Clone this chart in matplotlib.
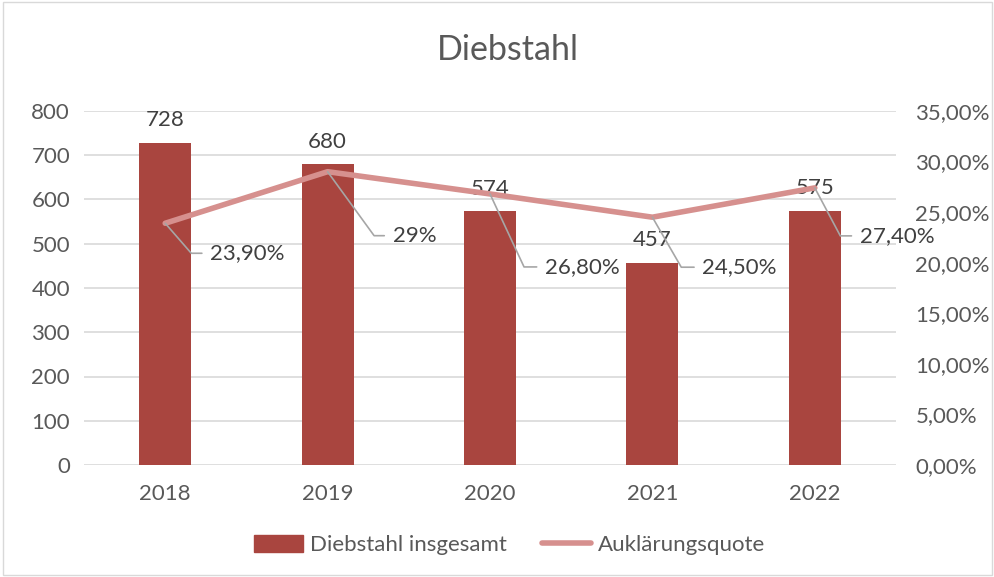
#!/usr/bin/python3

# Diebstahl: Fallzahlen (Balken) und Aufklaerungsquote (Linie)

import matplotlib
matplotlib.use("Agg")
import matplotlib.pyplot as plt
import matplotlib.ticker as mticker
import matplotlib.patches as mpatches

years = ["2018", "2019", "2020", "2021", "2022"]
cases = [728, 680, 574, 457, 575]
quote = [23.9, 29.0, 26.8, 24.5, 27.4]
quote_labels = ["23,90%", "29%", "26,80%", "24,50%", "27,40%"]

bar_col = "#A9453F"
line_col = "#D6908E"
grid_col = "#D9D9D9"
txt_col = "#404040"
tick_col = "#595959"

plt.rcParams['font.family'] = ['Lato', 'DejaVu Sans']

fig = plt.figure(figsize=(9.95, 5.77), dpi=100)
ax = fig.add_axes([84/995, 1-465/577, 812/995, 354/577])
ax2 = ax.twinx()

x = list(range(len(years)))
ax.bar(x, cases, width=0.32, color=bar_col, zorder=2, label="Diebstahl insgesamt")
ax.set_ylim(0, 800)
ax.set_xlim(-0.5, len(years)-0.5)
ax.set_yticks(range(0, 801, 100))
ax.yaxis.grid(True, color=grid_col, linewidth=1.2, zorder=0)
ax.set_axisbelow(True)
ax.set_xticks(x)
ax.set_xticklabels(years)
for s in ax.spines.values():
    s.set_visible(False)
for s in ax2.spines.values():
    s.set_visible(False)
ax.tick_params(axis='y', length=0, labelsize=16, colors=tick_col, pad=10)
ax.tick_params(axis='x', length=0, labelsize=16, colors=tick_col, pad=14)

for xi, v in zip(x, cases):
    ax.annotate(str(v), (xi, v), xytext=(0, 9), textcoords='offset points',
                ha='center', va='bottom', fontsize=16, color=txt_col)

ax2.plot(x, quote, color=line_col, linewidth=4, solid_capstyle='round', zorder=3,
         label="Auklärungsquote")
ax2.set_ylim(0, 35)
ax2.set_yticks(range(0, 36, 5))
ax2.yaxis.set_major_formatter(mticker.FuncFormatter(lambda v, p: f"{v:.2f}%".replace(".", ",")))
ax2.tick_params(axis='y', length=0, labelsize=16, colors=tick_col, pad=14)

# leader line labels (text offset in pixels, slope of leader)
offs = [(45, -30), (65, -64), (55, -73), (50, -50), (45, -48)]
angs = [-49, -54, -65, -60, -62]
for xi, q, lab, (dx, dy), a in zip(x, quote, quote_labels, offs, angs):
    ax2.annotate(lab, (xi, q), xytext=(dx, dy), textcoords='offset pixels',
                 ha='left', va='center', fontsize=16, color=txt_col,
                 arrowprops=dict(arrowstyle='-', color='#A6A6A6', lw=1.2,
                                 shrinkA=4, shrinkB=0, relpos=(0, 0.5),
                                 connectionstyle=f"angle,angleA=0,angleB={a},rad=0"))

fig.text(0.51, 1-50/577, "Diebstahl", ha='center', va='center', fontsize=24.5, color=tick_col)

h1 = mpatches.Patch(color=bar_col)
h2 = plt.Line2D([], [], color=line_col, linewidth=4, solid_capstyle='round')
fig.legend([h1, h2], ["Diebstahl insgesamt", "Auklärungsquote"], loc='center',
           bbox_to_anchor=(0.512, 1-545/577), ncol=2, frameon=False, fontsize=16,
           handlelength=2.2, handleheight=0.8, columnspacing=1.6, handletextpad=0.3,
           labelcolor=tick_col)

fig.patches.append(mpatches.Rectangle((0.003, 0.003), 0.994, 0.994, transform=fig.transFigure,
                                      fill=False, edgecolor="#D9D9D9", linewidth=1))

plt.savefig("out.png", dpi=100)
